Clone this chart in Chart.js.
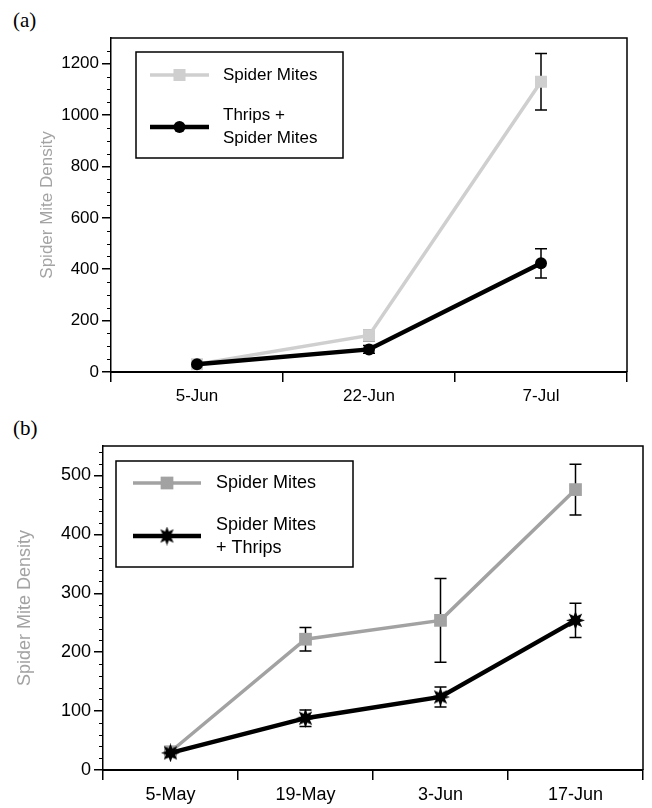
<!DOCTYPE html>
<html>
<head>
<meta charset="utf-8">
<script src="https://cdn.jsdelivr.net/npm/chart.js@4/dist/chart.umd.min.js"></script>
<style>
  body { margin: 0; background: #fff; width: 652px; height: 808px; position: relative; overflow: hidden; }
  .panel { position: absolute; left: 13px; font-family: "Liberation Serif", "Times New Roman", serif; font-size: 21px; color: #000; }
  .box { position: absolute; left: 0; width: 652px; }
</style>
</head>
<body>
<div class="panel" style="top:8px">(a)</div>
<div class="panel" style="top:416px">(b)</div>
<div class="box" style="top:0;height:405px"><canvas id="chartA"></canvas></div>
<div class="box" style="top:405px;height:403px"><canvas id="chartB"></canvas></div>

<script>
// panel (a)
const datesA = ['5-Jun', '22-Jun', '7-Jul'];
const mitesA = [30, 142, 1130];
const mitesErrA = [5, 20, 110];
const thripsMitesA = [30, 88, 423];
const thripsMitesErrA = [5, 15, 57];
const yTicksA = [0, 200, 400, 600, 800, 1000, 1200];

// panel (b)
const datesB = ['5-May', '19-May', '3-Jun', '17-Jun'];
const mitesB = [31, 222, 254, 476];
const mitesErrB = [4, 20, 71, 43];
const mitesThripsB = [29, 88, 124, 254];
const mitesThripsErrB = [4, 14, 17, 29];
const yTicksB = [0, 100, 200, 300, 400, 500];

const FONT = '"Liberation Sans", Arial, sans-serif';

// filled 8-point star used as point marker
function makeStar(size, points, inner) {
  const c = document.createElement('canvas');
  c.width = c.height = size;
  const g = c.getContext('2d');
  const r = size / 2;
  g.beginPath();
  for (let k = 0; k < points * 2; k++) {
    const rad = k % 2 ? r * inner : r;
    const a = -Math.PI / 2 + k * Math.PI / points;
    g.lineTo(r + rad * Math.cos(a), r + rad * Math.sin(a));
  }
  g.closePath();
  g.fillStyle = '#000';
  g.fill();
  return c;
}
const star = makeStar(19, 8, 0.5);

// error bars, drawn under the lines
const errorBars = {
  id: 'errorBars',
  beforeDatasetsDraw(chart) {
    const ctx = chart.ctx, y = chart.scales.y;
    ctx.save();
    ctx.strokeStyle = '#000';
    ctx.lineWidth = 1.5;
    chart.data.datasets.forEach((ds, i) => {
      chart.getDatasetMeta(i).data.forEach((pt, j) => {
        const top = y.getPixelForValue(ds.data[j] + ds.errors[j]);
        const bot = y.getPixelForValue(ds.data[j] - ds.errors[j]);
        ctx.beginPath();
        ctx.moveTo(pt.x, top); ctx.lineTo(pt.x, bot);
        ctx.moveTo(pt.x - 6, top); ctx.lineTo(pt.x + 6, top);
        ctx.moveTo(pt.x - 6, bot); ctx.lineTo(pt.x + 6, bot);
        ctx.stroke();
      });
    });
    ctx.restore();
  }
};

// top/right frame, minor y ticks, boxed legend
const frame = {
  id: 'frame',
  afterDraw(chart, args, opts) {
    const ctx = chart.ctx, a = chart.chartArea, y = chart.scales.y;
    ctx.save();
    ctx.strokeStyle = '#000';
    ctx.lineWidth = 1.5;
    ctx.beginPath();
    ctx.moveTo(a.left, a.top); ctx.lineTo(a.right, a.top); ctx.lineTo(a.right, a.bottom);
    ctx.stroke();

    ctx.lineWidth = 1;
    for (let v = opts.minor; v < y.max; v += opts.minor) {
      if (v % opts.major === 0) continue;
      const py = Math.round(y.getPixelForValue(v)) + 0.5;
      ctx.beginPath();
      ctx.moveTo(a.left - 4, py); ctx.lineTo(a.left, py);
      ctx.stroke();
    }

    const L = opts.legend;
    const bx = a.left + L.x, by = a.top + L.y;
    ctx.lineWidth = 1.5;
    ctx.strokeRect(bx, by, L.w, L.h);
    ctx.font = L.size + 'px ' + FONT;
    ctx.textBaseline = 'middle';
    ctx.fillStyle = '#000';
    chart.data.datasets.forEach((ds, i) => {
      const row = L.rows[i];
      ctx.strokeStyle = ds.borderColor;
      ctx.lineWidth = ds.borderWidth;
      ctx.beginPath();
      ctx.moveTo(bx + L.lineX, by + row.line);
      ctx.lineTo(bx + L.lineX + L.lineLen, by + row.line);
      ctx.stroke();
      ctx.fillStyle = ds.pointBackgroundColor;
      Chart.helpers.drawPoint(ctx, { pointStyle: ds.pointStyle, radius: ds.pointRadius, rotation: 0, borderWidth: 0 },
        bx + L.lineX + L.lineLen / 2, by + row.line);
      ctx.fillStyle = '#000';
      ds.label.forEach((t, k) => ctx.fillText(t, bx + L.textX, by + row.text + k * 23));
    });
    ctx.restore();
  }
};

function makeScales(ticks, max, size, yWidth, xHeight, titlePad) {
  const font = { family: FONT, size: size };
  return {
    x: {
      type: 'category',
      offset: true,
      grid: { offset: true, drawOnChartArea: false, tickLength: 10, color: '#000', lineWidth: 1.5 },
      border: { color: '#000', width: 2 },
      ticks: { color: '#000', font: font, padding: 4, maxRotation: 0 },
      afterFit(s) { s.height = xHeight; }
    },
    y: {
      min: 0,
      max: max,
      afterBuildTicks(s) { s.ticks = ticks.map(v => ({ value: v })); },
      grid: { drawOnChartArea: false, tickLength: 9, color: '#000', lineWidth: 1.5 },
      border: { color: '#000', width: 1.5 },
      ticks: { color: '#000', font: font, padding: 3, callback: v => String(v) },
      title: { display: true, text: 'Spider Mite Density', color: '#a3a3a3', font: { family: FONT, size: size }, padding: { top: titlePad, bottom: 0 } },
      afterFit(s) { s.width = yWidth; }
    }
  };
}

new Chart(document.getElementById('chartA'), {
  type: 'line',
  data: {
    labels: datesA,
    datasets: [
      {
        label: ['Spider Mites'], data: mitesA, errors: mitesErrA, order: 1,
        borderColor: '#cfcfcf', borderWidth: 3.5, pointStyle: 'rect', pointRadius: 8.5,
        pointBackgroundColor: '#cfcfcf', pointBorderWidth: 0, tension: 0
      },
      {
        label: ['Thrips +', 'Spider Mites'], data: thripsMitesA, errors: thripsMitesErrA, order: 0,
        borderColor: '#000', borderWidth: 4.5, pointStyle: 'circle', pointRadius: 6,
        pointBackgroundColor: '#000', pointBorderWidth: 0, tension: 0
      }
    ]
  },
  options: {
    responsive: true,
    maintainAspectRatio: false,
    animation: false,
    layout: { padding: { top: 38, right: 25, left: 0, bottom: 0 } },
    plugins: {
      legend: { display: false },
      tooltip: { enabled: false },
      frame: {
        minor: 50, major: 200,
        legend: { x: 25, y: 14, w: 207, h: 106, lineX: 14, lineLen: 59, textX: 87, size: 17,
          rows: [{ line: 23, text: 23 }, { line: 75, text: 63 }] }
      }
    },
    scales: makeScales(yTicksA, 1300, 17, 111, 33, 37)
  },
  plugins: [errorBars, frame]
});

new Chart(document.getElementById('chartB'), {
  type: 'line',
  data: {
    labels: datesB,
    datasets: [
      {
        label: ['Spider Mites'], data: mitesB, errors: mitesErrB, order: 1,
        borderColor: '#a2a2a2', borderWidth: 3.5, pointStyle: 'rect', pointRadius: 9,
        pointBackgroundColor: '#a2a2a2', pointBorderWidth: 0, tension: 0
      },
      {
        label: ['Spider Mites', '+ Thrips'], data: mitesThripsB, errors: mitesThripsErrB, order: 0,
        borderColor: '#000', borderWidth: 4.5, pointStyle: star, pointRadius: 9,
        pointBackgroundColor: '#000', pointBorderWidth: 0, tension: 0
      }
    ]
  },
  options: {
    responsive: true,
    maintainAspectRatio: false,
    animation: false,
    layout: { padding: { top: 41, right: 4, left: 0, bottom: 0 } },
    plugins: {
      legend: { display: false },
      tooltip: { enabled: false },
      frame: {
        minor: 20, major: 100,
        legend: { x: 13, y: 15, w: 237, h: 106, lineX: 17, lineLen: 68, textX: 100, size: 18,
          rows: [{ line: 22, text: 22 }, { line: 75, text: 64 }] }
      }
    },
    scales: makeScales(yTicksB, 550, 18, 103, 38, 14)
  },
  plugins: [errorBars, frame]
});
</script>
</body>
</html>
